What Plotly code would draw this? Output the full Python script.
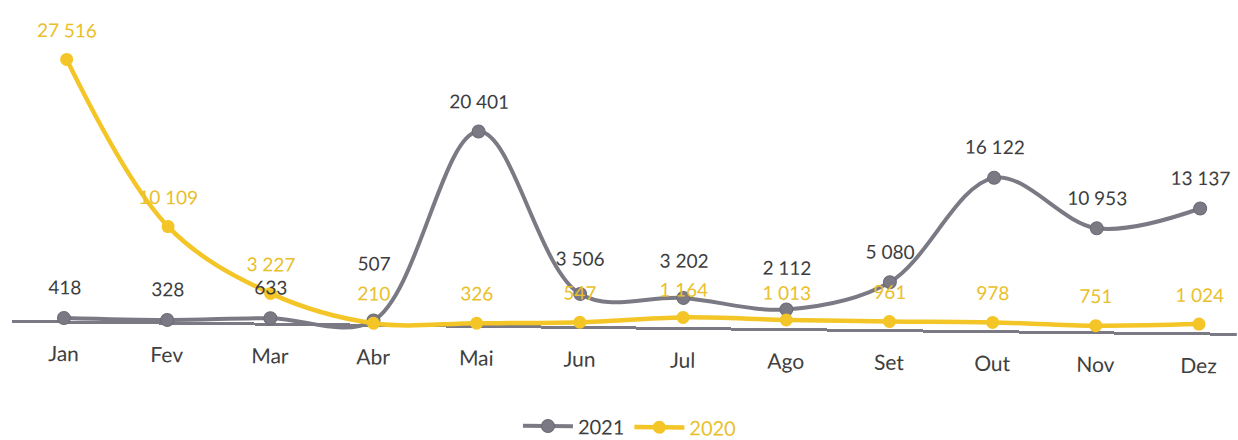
import plotly.graph_objects as go

months = ["Jan", "Fev", "Mar", "Abr", "Mai", "Jun", "Jul", "Ago", "Set", "Out", "Nov", "Dez"]
values_2021 = [418, 328, 633, 507, 20401, 3506, 3202, 2112, 5080, 16122, 10953, 13137]
values_2020 = [27516, 10109, 3227, 210, 326, 547, 1164, 1013, 961, 978, 751, 1024]

GRAY = "#7b7a84"
GRAY_TEXT = "#3d3d40"
YELLOW = "#f4c526"
YELLOW_TEXT = "#e9c02c"
FONT = "Lato"

# vertical offsets (px) of the value labels, nudged where the two series crowd
shift_2021 = {"Abr": 57, "Jun": 36, "Jul": 38, "Ago": 42}
shift_2020 = {"Jul": 28, "Ago": 28}


def fmt(v):
    return f"{v:,}".replace(",", " ")


fig = go.Figure()

fig.add_trace(go.Scatter(
    x=months, y=values_2021, name=f'<span style="color:{GRAY_TEXT}">2021</span>',
    mode="lines+markers",
    line=dict(color=GRAY, width=4, shape="spline", smoothing=1),
    marker=dict(size=13, color=GRAY, line=dict(color="#6c6b75", width=1)),
))
fig.add_trace(go.Scatter(
    x=months, y=values_2020, name=f'<span style="color:{YELLOW_TEXT}">2020</span>',
    mode="lines+markers",
    line=dict(color=YELLOW, width=4.5, shape="spline", smoothing=1),
    marker=dict(size=13, color=YELLOW),
))

# value labels above each point
annotations = []
for m, v in zip(months, values_2021):
    annotations.append(dict(x=m, y=v, text=fmt(v), showarrow=False,
                            yshift=shift_2021.get(m, 31),
                            font=dict(family=FONT, size=19, color=GRAY_TEXT)))
for m, v in zip(months, values_2020):
    annotations.append(dict(x=m, y=v, text=fmt(v), showarrow=False,
                            yshift=shift_2020.get(m, 30),
                            font=dict(family=FONT, size=19, color=YELLOW_TEXT)))

fig.update_layout(
    width=1238, height=440,
    margin=dict(l=13, r=0, t=51, b=95, autoexpand=False),
    paper_bgcolor="white", plot_bgcolor="white",
    font=dict(family=FONT, color="#404040"),
    annotations=annotations,
    showlegend=True,
    legend=dict(orientation="h", x=0.505, xanchor="center",
                yref="container", y=0.03, yanchor="middle",
                font=dict(family=FONT, size=20), itemwidth=50, traceorder="normal"),
    xaxis=dict(type="category", range=[-0.504, 11.368], showgrid=False, showline=False,
               ticks="", tickfont=dict(family=FONT, size=21, color="#404040"),
               ticklabelstandoff=0),
    yaxis=dict(range=[-1800, 29000], showgrid=False, showticklabels=False,
               zeroline=True, zerolinecolor=GRAY, zerolinewidth=3, showline=False),
)

# slight clockwise tilt of the whole chart
fig.write_html(
    "out.html",
    post_script="document.getElementById('{plot_id}').style.transform='rotate(0.6deg)';",
)
